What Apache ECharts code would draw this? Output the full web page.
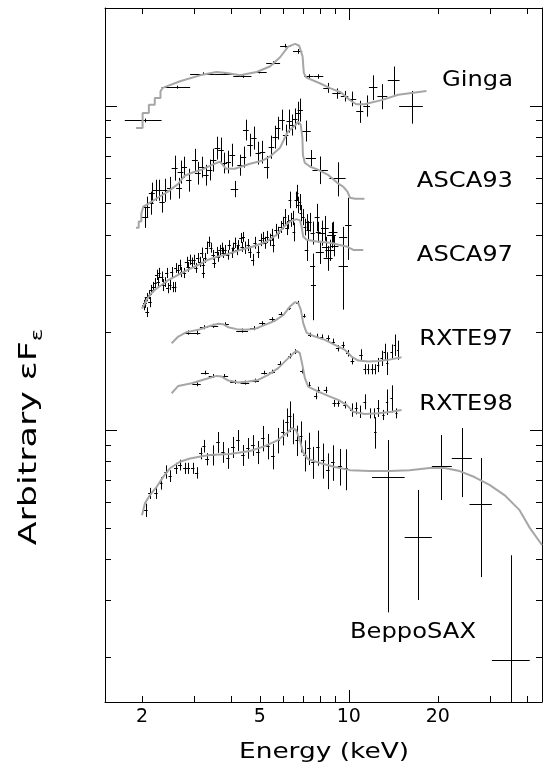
<!DOCTYPE html>
<html><head><meta charset="utf-8">
<script src="https://cdn.jsdelivr.net/npm/echarts@6/dist/echarts.min.js"></script>
<style>html,body{margin:0;padding:0;background:#fff}#c{width:548px;height:773px}</style>
</head><body><div id="c"></div>
<script>
// ---- axis ranges and ticks ----
const xMin = 1.5, xMax = 45;
const yMin = 0.0145, yMax = 2;
const xMinorTicks = [2, 3, 4, 5, 6, 7, 8, 9, 20, 30, 40];
const xMajorTicks = [10];
const xTickLabels = [2, 5, 10, 20];
const yMinorTicks = [0.02, 0.03, 0.04, 0.05, 0.06, 0.07, 0.08, 0.09, 0.2, 0.3, 0.4, 0.5, 0.6, 0.7, 0.8, 0.9, 2];
const yMajorTicks = [0.1, 1];
const xTitle = 'Energy (keV)';
const yTitle = 'Arbitrary εF';
const yTitleSub = 'ε';
const seriesLabels = ['Ginga', 'ASCA93', 'ASCA97', 'RXTE97', 'RXTE98', 'BeppoSAX'];

// ---- data: [E, dE, value, dValue] ----
const gingaData = [
[2.04,0.29,0.90,0.012],[2.62,0.29,1.14,0.012],[3.21,0.30,1.255,0.012],[3.79,0.28,1.255,0.012],
[4.38,0.31,1.23,0.012],[4.99,0.29,1.27,0.013],[5.56,0.30,1.355,0.015],[6.11,0.25,1.53,0.02],
[6.72,0.24,1.47,0.025],[7.34,0.26,1.23,0.02],[7.90,0.30,1.23,0.02],[8.50,0.30,1.135,0.04],
[9.10,0.30,1.09,0.04],[9.68,0.28,1.07,0.04],[10.27,0.33,1.05,0.055],[10.9,0.30,0.96,0.075],
[11.5,0.30,1.00,0.075],[12.1,0.40,1.14,0.10],[13.0,0.50,1.07,0.095],[14.2,0.65,1.20,0.12],
[16.3,1.50,0.995,0.115]
];
const gingaModel = [
[1.91,0.853],[2.01,0.853],[2.01,0.949],[2.11,0.949],[2.11,1.007],[2.21,1.007],[2.21,1.056],[2.31,1.056],
[2.31,1.107],[2.35,1.134],[2.69,1.189],[3.14,1.24],[3.57,1.27],[3.86,1.26],[4.29,1.24],[4.88,1.27],
[5.41,1.32],[5.86,1.41],[6.24,1.52],[6.59,1.55],[6.80,1.53],[6.98,1.42],[7.05,1.26],[7.19,1.22],
[8.02,1.17],[8.68,1.13],[9.39,1.10],[10.1,1.04],[10.6,1.01],[11.3,1.01],[12.9,1.04],[14.7,1.08],[18.3,1.11]
];
const asca93Data = [
[2.05,0.05,0.454,0.034],[2.08,0.05,0.488,0.036],[2.14,0.05,0.502,0.041],[2.16,0.05,0.539,0.040],
[2.23,0.05,0.550,0.041],[2.29,0.05,0.550,0.041],[2.34,0.05,0.505,0.037],[2.39,0.05,0.550,0.045],
[2.49,0.06,0.558,0.045],[2.58,0.06,0.644,0.057],[2.67,0.06,0.558,0.041],[2.70,0.06,0.626,0.051],
[2.78,0.06,0.648,0.048],[2.88,0.06,0.591,0.048],[3.02,0.07,0.681,0.055],[3.09,0.07,0.621,0.050],
[3.19,0.07,0.648,0.048],[3.29,0.07,0.612,0.045],[3.39,0.07,0.635,0.047],[3.49,0.08,0.681,0.055],
[3.60,0.08,0.742,0.060],[3.70,0.08,0.732,0.065],[3.80,0.08,0.667,0.049],[3.92,0.08,0.672,0.054],
[4.04,0.09,0.706,0.057],[4.11,0.12,0.554,0.032],[4.29,0.09,0.657,0.049],[4.41,0.09,0.696,0.052],
[4.49,0.10,0.843,0.062],[4.64,0.10,0.758,0.061],[4.78,0.10,0.797,0.065],[4.94,0.10,0.716,0.058],
[5.11,0.11,0.721,0.058],[5.28,0.11,0.648,0.052],[5.48,0.12,0.747,0.061],[5.64,0.12,0.802,0.065],
[5.75,0.12,0.855,0.069],[5.95,0.13,0.905,0.067],[6.12,0.13,0.814,0.060],[6.29,0.13,0.899,0.073],
[6.42,0.14,0.874,0.065],[6.57,0.14,0.912,0.068],[6.73,0.14,0.951,0.077],[6.86,0.14,0.972,0.079],
[7.18,0.26,0.837,0.062],[7.45,0.30,0.690,0.040],[8.02,0.48,0.635,0.062],[9.18,0.58,0.597,0.072]
];
const asca93Model = [
[1.91,0.420],[1.95,0.420],[1.95,0.439],[1.99,0.439],[1.99,0.464],[2.02,0.464],[2.02,0.488],[2.10,0.498],
[2.26,0.520],[2.45,0.543],[2.65,0.574],[2.79,0.608],[2.95,0.621],[3.19,0.635],[3.45,0.657],[3.67,0.672],
[3.85,0.639],[4.12,0.639],[4.64,0.662],[5.09,0.676],[5.41,0.696],[5.86,0.742],[6.22,0.831],[6.58,0.868],
[6.74,0.893],[6.88,0.874],[6.97,0.797],[7.00,0.706],[7.10,0.667],[7.41,0.648],[7.86,0.635],[8.51,0.612],
[9.14,0.578],[9.59,0.562],[9.90,0.543],[10.1,0.520],[10.5,0.516],[11.3,0.516]
];
const asca97Data = [
[2.036,0.03,0.243,0.009],[2.047,0.03,0.247,0.009],[2.084,0.03,0.231,0.008],[2.074,0.03,0.257,0.0075],
[2.112,0.03,0.261,0.0076],[2.128,0.03,0.248,0.009],[2.145,0.03,0.2705,0.0097],[2.184,0.03,0.276,0.01],
[2.213,0.03,0.284,0.01],[2.243,0.03,0.301,0.011],[2.270,0.03,0.286,0.01],[2.283,0.03,0.305,0.011],
[2.331,0.03,0.297,0.011],[2.361,0.03,0.280,0.012],[2.392,0.03,0.286,0.01],[2.424,0.03,0.305,0.011],
[2.443,0.03,0.274,0.01],[2.487,0.03,0.280,0.01],[2.52,0.03,0.307,0.011],[2.552,0.03,0.276,0.01],
[2.586,0.03,0.276,0.01],[2.60,0.03,0.316,0.011],[2.653,0.03,0.312,0.011],[2.688,0.03,0.323,0.012],
[2.72,0.03,0.307,0.011],[2.78,0.04,0.305,0.011],[2.832,0.04,0.330,0.012],[2.868,0.04,0.3185,0.011],
[2.906,0.04,0.335,0.012],[2.945,0.04,0.328,0.012],[2.998,0.04,0.335,0.012],[3.045,0.04,0.316,0.011],
[3.086,0.04,0.3395,0.012],[3.141,0.04,0.330,0.012],[3.183,0.04,0.352,0.013],[3.223,0.04,0.323,0.014],
[3.266,0.04,0.3395,0.012],[3.228,0.04,0.305,0.011],[3.309,0.04,0.365,0.016],[3.369,0.04,0.3805,0.014],
[3.422,0.04,0.365,0.013],[3.483,0.05,0.347,0.012],[3.51,0.05,0.328,0.012],[3.576,0.05,0.354,0.013],
[3.62,0.05,0.342,0.012],[3.670,0.05,0.359,0.013],[3.72,0.05,0.365,0.013],[3.765,0.05,0.352,0.013],
[3.815,0.05,0.359,0.013],[3.896,0.05,0.347,0.012],[3.945,0.05,0.372,0.013],[4.02,0.05,0.352,0.013],
[4.07,0.05,0.365,0.013],[4.124,0.05,0.378,0.014],[4.18,0.05,0.359,0.013],[4.23,0.05,0.372,0.013],
[4.321,0.06,0.391,0.014],[4.365,0.06,0.367,0.013],[4.40,0.06,0.394,0.014],[4.458,0.06,0.365,0.016],
[4.574,0.06,0.372,0.016],[4.635,0.06,0.354,0.015],[4.733,0.06,0.335,0.014],[4.818,0.06,0.378,0.016],
[4.944,0.06,0.354,0.015],[5.036,0.07,0.386,0.017],[5.14,0.07,0.391,0.017],[5.208,0.07,0.378,0.016],
[5.30,0.07,0.394,0.017],[5.414,0.07,0.386,0.017],[5.486,0.07,0.400,0.017],[5.556,0.07,0.372,0.019],
[5.673,0.07,0.414,0.018],[5.776,0.07,0.406,0.017],[5.884,0.07,0.423,0.018],[5.976,0.07,0.435,0.019],
[6.084,0.07,0.454,0.026],[6.165,0.07,0.420,0.021],[6.244,0.07,0.438,0.022],[6.326,0.07,0.513,0.030],
[6.36,0.07,0.445,0.022],[6.46,0.07,0.451,0.023],[6.525,0.07,0.4085,0.027],[6.628,0.07,0.513,0.030],
[6.695,0.07,0.539,0.031],[6.748,0.07,0.495,0.029],[6.837,0.07,0.505,0.029],[6.891,0.07,0.467,0.027],
[7.015,0.08,0.454,0.026],[7.108,0.08,0.423,0.025],[7.20,0.08,0.438,0.025],[7.20,0.10,0.359,0.027],
[7.293,0.10,0.414,0.027],[7.39,0.10,0.438,0.029],[7.55,0.12,0.406,0.033],[7.55,0.15,0.321,0.029],
[7.82,0.15,0.454,0.044],[7.89,0.15,0.4085,0.030],[7.988,0.25,0.354,0.029],[8.10,0.25,0.406,0.036],
[8.305,0.25,0.420,0.037],[8.369,0.25,0.367,0.027],[8.52,0.3,0.3395,0.030],[8.634,0.3,0.359,0.027],
[8.75,0.3,0.400,0.036],[8.86,0.3,0.4085,0.030],[8.93,0.3,0.370,0.027],[9.58,0.3,0.394,0.029]
];
// long asymmetric bars: [E, dE-, dE+, value, dValue-, dValue+]
const asca97Long = [
[7.60,0.15,0.15,0.280,0.062,0.050],[9.59,0.35,0.35,0.321,0.086,0.085],[9.97,0.25,0.25,0.429,0.0945,0.091]
];
const asca97Model = [
[2.00,0.237],[2.036,0.243],[2.074,0.252],[2.128,0.261],[2.213,0.2705],[2.331,0.280],[2.455,0.290],
[2.653,0.301],[2.868,0.312],[3.10,0.323],[3.35,0.335],[3.62,0.343],[3.915,0.349],[4.288,0.359],
[4.75,0.368],[5.275,0.381],[5.705,0.400],[6.05,0.424],[6.326,0.439],[6.66,0.447],[6.837,0.443],
[6.93,0.424],[7.015,0.395],[7.20,0.386],[7.785,0.381],[8.634,0.378],[9.332,0.372],[9.83,0.368],
[10.36,0.359],[11.2,0.359]
];
const rxte97Data = [
[2.868,0.11,0.1997,0.003],[3.06,0.09,0.1997,0.003],[3.24,0.10,0.2075,0.003],[3.48,0.14,0.2095,0.003],
[3.815,0.12,0.2118,0.003],[4.365,0.20,0.2026,0.003],[4.79,0.15,0.2061,0.003],[5.10,0.12,0.2135,0.003],
[5.51,0.12,0.2197,0.003],[5.898,0.10,0.2281,0.003],[6.29,0.08,0.2374,0.003],[6.716,0.08,0.2471,0.003],
[7.07,0.08,0.2249,0.003],[7.39,0.10,0.1965,0.003],[7.785,0.10,0.1951,0.003],[8.10,0.10,0.1941,0.003],
[8.52,0.12,0.1919,0.004],[8.86,0.12,0.1873,0.004],[9.17,0.12,0.1787,0.004],[9.58,0.12,0.1830,0.004],
[9.91,0.12,0.1725,0.004],[10.29,0.15,0.1633,0.004],[11.0,0.15,0.1704,0.007],[11.33,0.12,0.1540,0.0055],
[11.63,0.12,0.1540,0.0055],[11.98,0.12,0.1540,0.0055],[12.24,0.12,0.1540,0.0055],[12.57,0.12,0.1588,0.008],
[12.92,0.12,0.1665,0.009],[13.23,0.12,0.1745,0.010],[13.5,0.12,0.1607,0.013],[13.95,0.12,0.1745,0.009],
[14.3,0.12,0.1830,0.014],[14.67,0.12,0.1766,0.012]
];
const rxte97Model = [
[2.52,0.1852],[2.653,0.1941],[2.83,0.2003],[3.10,0.2036],[3.35,0.2084],[3.62,0.2125],[3.77,0.2118],
[3.915,0.2075],[4.18,0.2046],[4.458,0.2036],[4.818,0.2050],[5.208,0.2110],[5.629,0.2171],[6.02,0.2265],
[6.326,0.2402],[6.576,0.2478],[6.75,0.2461],[6.891,0.2347],[7.015,0.2135],[7.20,0.1997],[7.683,0.1941],
[8.305,0.1896],[8.976,0.1830],[9.702,0.1766],[10.22,0.1684],[10.76,0.1637],[11.63,0.1625],[12.57,0.1633],
[13.59,0.1645],[15.08,0.1677]
];
const rxte98Data = [
[3.06,0.10,0.1384,0.002],[3.266,0.10,0.1503,0.002],[3.483,0.12,0.1468,0.002],[3.79,0.12,0.1468,0.002],
[4.124,0.15,0.1407,0.002],[4.458,0.15,0.1400,0.002],[4.818,0.15,0.1420,0.002],[5.18,0.12,0.1503,0.002],
[5.51,0.12,0.1514,0.002],[5.852,0.10,0.1599,0.003],[6.326,0.08,0.1692,0.003],[6.576,0.08,0.1745,0.003],
[6.93,0.08,0.1524,0.003],[7.333,0.10,0.1377,0.003],[7.73,0.10,0.1274,0.003],[7.89,0.10,0.1329,0.003],
[8.35,0.12,0.1329,0.003],[8.93,0.12,0.1209,0.003],[9.21,0.12,0.1209,0.003],[9.70,0.12,0.1195,0.003],
[10.22,0.12,0.1153,0.0055],[10.6,0.12,0.1167,0.005],[10.9,0.12,0.1139,0.005],[11.33,0.12,0.1223,0.0065],
[11.78,0.12,0.1126,0.004],[12.17,0.12,0.1126,0.004],[12.57,0.12,0.1167,0.007],[13.1,0.12,0.1113,0.004],
[13.47,0.12,0.1223,0.011],[13.95,0.12,0.1253,0.012],[14.5,0.12,0.1126,0.004],[12.3,0.12,0.0986,0.011]
];
const rxte98Model = [
[2.52,0.1298],[2.653,0.1367],[2.945,0.1394],[3.266,0.1434],[3.576,0.1468],[3.72,0.1461],[3.915,0.1420],
[4.23,0.1400],[4.574,0.1410],[4.944,0.1427],[5.34,0.1479],[5.776,0.1551],[6.16,0.1645],[6.54,0.1732],
[6.66,0.1754],[6.837,0.1725],[6.97,0.1588],[7.108,0.1444],[7.293,0.1360],[7.89,0.1313],[8.52,0.1274],
[9.21,0.1238],[9.83,0.1195],[10.35,0.1139],[11.33,0.1121],[12.57,0.1126],[13.95,0.1139],[15.08,0.1153]
];
const saxData = [
[2.06,0.03,0.0566,0.0027],[2.128,0.03,0.0638,0.0025],[2.23,0.03,0.0638,0.0025],[2.318,0.03,0.0685,0.003],
[2.411,0.03,0.0743,0.0035],[2.49,0.03,0.0721,0.003],[2.606,0.04,0.0762,0.003],[2.688,0.04,0.0780,0.003],
[2.795,0.04,0.0762,0.003],[2.868,0.04,0.0762,0.003],[2.97,0.04,0.0762,0.003],[3.06,0.04,0.0738,0.003],
[3.16,0.04,0.0847,0.0035],[3.24,0.04,0.0892,0.004],[3.32,0.05,0.0813,0.0035],[3.475,0.05,0.0837,0.006],
[3.613,0.05,0.0918,0.0068],[3.756,0.05,0.0855,0.0063],[3.905,0.05,0.0819,0.006],[4.06,0.06,0.0886,0.0066],
[4.221,0.06,0.0931,0.0069],[4.389,0.06,0.0837,0.0062],[4.563,0.06,0.0880,0.0065],[4.744,0.07,0.0898,0.0066],
[4.932,0.07,0.0855,0.007],[5.127,0.07,0.0944,0.0085],[5.331,0.07,0.0892,0.008],[5.542,0.08,0.0831,0.0075],
[5.762,0.08,0.0931,0.0084],[5.99,0.08,0.0986,0.009],[6.18,0.08,0.1059,0.0106],[6.326,0.08,0.1105,0.012],
[6.475,0.08,0.1014,0.011],[6.679,0.08,0.0931,0.010],[6.891,0.09,0.0958,0.0105],[7.108,0.09,0.0837,0.0092],
[7.333,0.10,0.0880,0.010],[7.565,0.10,0.0797,0.009],[7.865,0.10,0.0886,0.011],[8.176,0.12,0.0808,0.010],
[8.501,0.12,0.0752,0.0095],[8.838,0.12,0.0797,0.010],[9.332,0.15,0.0774,0.010],[9.778,0.15,0.0762,0.011]
];
const saxHigh = [
[13.55,1.57,1.90,0.0716,0.0442,0.0215],[17.13,1.68,1.96,0.0467,0.0168,0.0186],
[20.48,1.39,1.82,0.0774,0.0166,0.0191],[24.1,1.80,1.97,0.0820,0.0199,0.0194],
[27.97,2.37,2.49,0.0591,0.0239,0.0229],[35.3,4.84,5.60,0.0195,0.012,0.0216]
];
const saxModel = [
[2.0,0.0546],[2.047,0.0594],[2.128,0.0630],[2.243,0.0668],[2.36,0.0717],[2.487,0.0762],[2.688,0.0798],
[2.906,0.0817],[3.223,0.0831],[3.395,0.0837],[3.967,0.0843],[4.635,0.0861],[5.208,0.0892],[5.762,0.0931],
[6.18,0.0979],[6.425,0.1014],[6.628,0.1],[6.837,0.0931],[6.999,0.0855],[7.276,0.0814],[7.988,0.0791],
[8.976,0.0769],[10.09,0.0752],[11.78,0.0747],[13.75,0.0747],[16.06,0.0752],[18.76,0.0763],[21.1,0.0763],
[23.7,0.0747],[26.6,0.0716],[29.9,0.0677],[33.6,0.0630],[37.8,0.0566],[40.8,0.0501],[45.0,0.0442]
];

// ---- helpers ----
const lg = Math.log10;
const FONT = 'DejaVu Sans';
const MODEL_COLOR = '#a6a6a6';

function crossRender(asym) {
  return function (params, api) {
    const E = api.value(0);
    let e1, e2, v, v1, v2;
    if (asym) {
      e1 = E - api.value(1); e2 = E + api.value(2); v = api.value(3);
      v1 = v - api.value(4); v2 = v + api.value(5);
    } else {
      e1 = E - api.value(1); e2 = E + api.value(1); v = api.value(2);
      v1 = v - api.value(3); v2 = v + api.value(3);
    }
    const a = api.coord([e1, v]), b = api.coord([e2, v]);
    const c = api.coord([E, v1]), d = api.coord([E, v2]);
    const hy = Math.round(a[1]) + 0.5, vx = Math.round(c[0]) + 0.5;
    return {
      type: 'group',
      children: [
        { type: 'line', shape: { x1: a[0], y1: hy, x2: b[0], y2: hy }, style: { stroke: '#000', lineWidth: 1 } },
        { type: 'line', shape: { x1: vx, y1: c[1], x2: vx, y2: d[1] }, style: { stroke: '#000', lineWidth: 1 } }
      ]
    };
  };
}
function crossSeries(name, data, asym) {
  return {
    type: 'custom', name: name, xAxisIndex: 0, yAxisIndex: 0, clip: true, z: 2, silent: true,
    renderItem: crossRender(asym), encode: { x: 0, y: asym ? 3 : 2 }, data: data
  };
}
function modelSeries(name, data) {
  return {
    type: 'line', name: name, xAxisIndex: 0, yAxisIndex: 0, data: data, showSymbol: false, symbol: 'none',
    clip: true, z: 3, silent: true, lineStyle: { color: MODEL_COLOR, width: 2 }
  };
}
// frame ticks (inward, on all four sides), positioned through the log axes
function tickSeries(name, values, dim, len) {
  return {
    type: 'custom', name: name, xAxisIndex: 0, yAxisIndex: 0, clip: false, z: 6, silent: true,
    encode: { x: 0, y: 1 },
    data: values.map(function (v) { return dim === 'x' ? [v, 1] : [2, v]; }),
    renderItem: function (params, api) {
      const cs = params.coordSys;
      const st = function () { return { stroke: '#000', lineWidth: 1 }; };
      if (dim === 'x') {
        const px = Math.round(api.coord([api.value(0), 1])[0]) + 0.5;
        const yb = cs.y + cs.height, yt = cs.y;
        return { type: 'group', children: [
          { type: 'line', shape: { x1: px, y1: yb, x2: px, y2: yb - len }, style: st() },
          { type: 'line', shape: { x1: px, y1: yt, x2: px, y2: yt + len }, style: st() }
        ] };
      }
      const py = Math.round(api.coord([2, api.value(1)])[1]) + 0.5;
      const xl = cs.x, xr = cs.x + cs.width;
      return { type: 'group', children: [
        { type: 'line', shape: { x1: xl, y1: py, x2: xl + len, y2: py }, style: st() },
        { type: 'line', shape: { x1: xr, y1: py, x2: xr - len, y2: py }, style: st() }
      ] };
    }
  };
}
function frameAxisX(pos, labels) {
  return {
    type: 'value', gridIndex: 0, position: pos, min: lg(xMin), max: lg(xMax),
    axisLine: { show: true, onZero: false, lineStyle: { color: '#000', width: 1 } },
    axisTick: { show: false },
    axisLabel: labels ? {
      show: true, customValues: labels.map(lg),
      formatter: function (v) { return String(Math.round(Math.pow(10, v))); },
      color: '#000', fontSize: 19, fontFamily: FONT, margin: 6
    } : { show: false },
    splitLine: { show: false }, silent: true
  };
}
function frameAxisY(pos) {
  return {
    type: 'value', gridIndex: 0, position: pos, min: lg(yMin), max: lg(yMax),
    axisLine: { show: true, onZero: false, lineStyle: { color: '#000', width: 1 } },
    axisTick: { show: false }, axisLabel: { show: false }, splitLine: { show: false }, silent: true
  };
}
function label(text, x, y, align) {
  return {
    type: 'text', x: x, y: y, scaleX: 1.1, silent: true,
    style: { text: text, fill: '#000', fontSize: 22, fontFamily: FONT, textAlign: align, textVerticalAlign: 'middle' }
  };
}

const chart = echarts.init(document.getElementById('c'), null, { renderer: 'canvas' });
chart.setOption({
  animation: false,
  backgroundColor: '#fff',
  grid: { left: 105, right: 6, top: 8, bottom: 71, containLabel: false, outerBoundsMode: 'none' },
  xAxis: [
    { type: 'log', logBase: 10, min: xMin, max: xMax, position: 'bottom', show: false, gridIndex: 0 },
    frameAxisX('bottom', xTickLabels),
    frameAxisX('top', null)
  ],
  yAxis: [
    { type: 'log', logBase: 10, min: yMin, max: yMax, position: 'left', show: false, gridIndex: 0 },
    frameAxisY('left'),
    frameAxisY('right')
  ],
  series: [
    tickSeries('x minor ticks', xMinorTicks, 'x', 6), tickSeries('x major ticks', xMajorTicks, 'x', 12),
    tickSeries('y minor ticks', yMinorTicks, 'y', 6), tickSeries('y major ticks', yMajorTicks, 'y', 12),
    crossSeries(seriesLabels[0], gingaData, false), modelSeries(seriesLabels[0] + ' model', gingaModel),
    crossSeries(seriesLabels[1], asca93Data, false), modelSeries(seriesLabels[1] + ' model', asca93Model),
    crossSeries(seriesLabels[2], asca97Data, false), crossSeries(seriesLabels[2] + ' long', asca97Long, true),
    modelSeries(seriesLabels[2] + ' model', asca97Model),
    crossSeries(seriesLabels[3], rxte97Data, false), modelSeries(seriesLabels[3] + ' model', rxte97Model),
    crossSeries(seriesLabels[4], rxte98Data, false), modelSeries(seriesLabels[4] + ' model', rxte98Model),
    crossSeries(seriesLabels[5], saxData, false), crossSeries(seriesLabels[5] + ' high', saxHigh, true),
    modelSeries(seriesLabels[5] + ' model', saxModel)
  ],
  graphic: [
    label(seriesLabels[0], 513, 80, 'right'),
    label(seriesLabels[1], 513, 181, 'right'),
    label(seriesLabels[2], 513, 255, 'right'),
    label(seriesLabels[3], 513, 339, 'right'),
    label(seriesLabels[4], 513, 404, 'right'),
    label(seriesLabels[5], 350, 632, 'left'),
    {
      type: 'text', x: 324, y: 752, scaleX: 1.2, silent: true,
      style: { text: xTitle, fill: '#000', fontSize: 22, fontFamily: FONT, textAlign: 'center', textVerticalAlign: 'middle' }
    },
    {
      type: 'text', x: 30, y: 437, rotation: Math.PI / 2, scaleX: 1.45, silent: true,
      style: {
        text: yTitle + '{s|' + yTitleSub + '}', fill: '#000', fontSize: 24, fontFamily: FONT,
        textAlign: 'center', textVerticalAlign: 'middle',
        rich: { s: { fontSize: 16, fontFamily: FONT, fill: '#000', verticalAlign: 'bottom', lineHeight: 32 } }
      }
    }
  ]
});
</script>
</body></html>
